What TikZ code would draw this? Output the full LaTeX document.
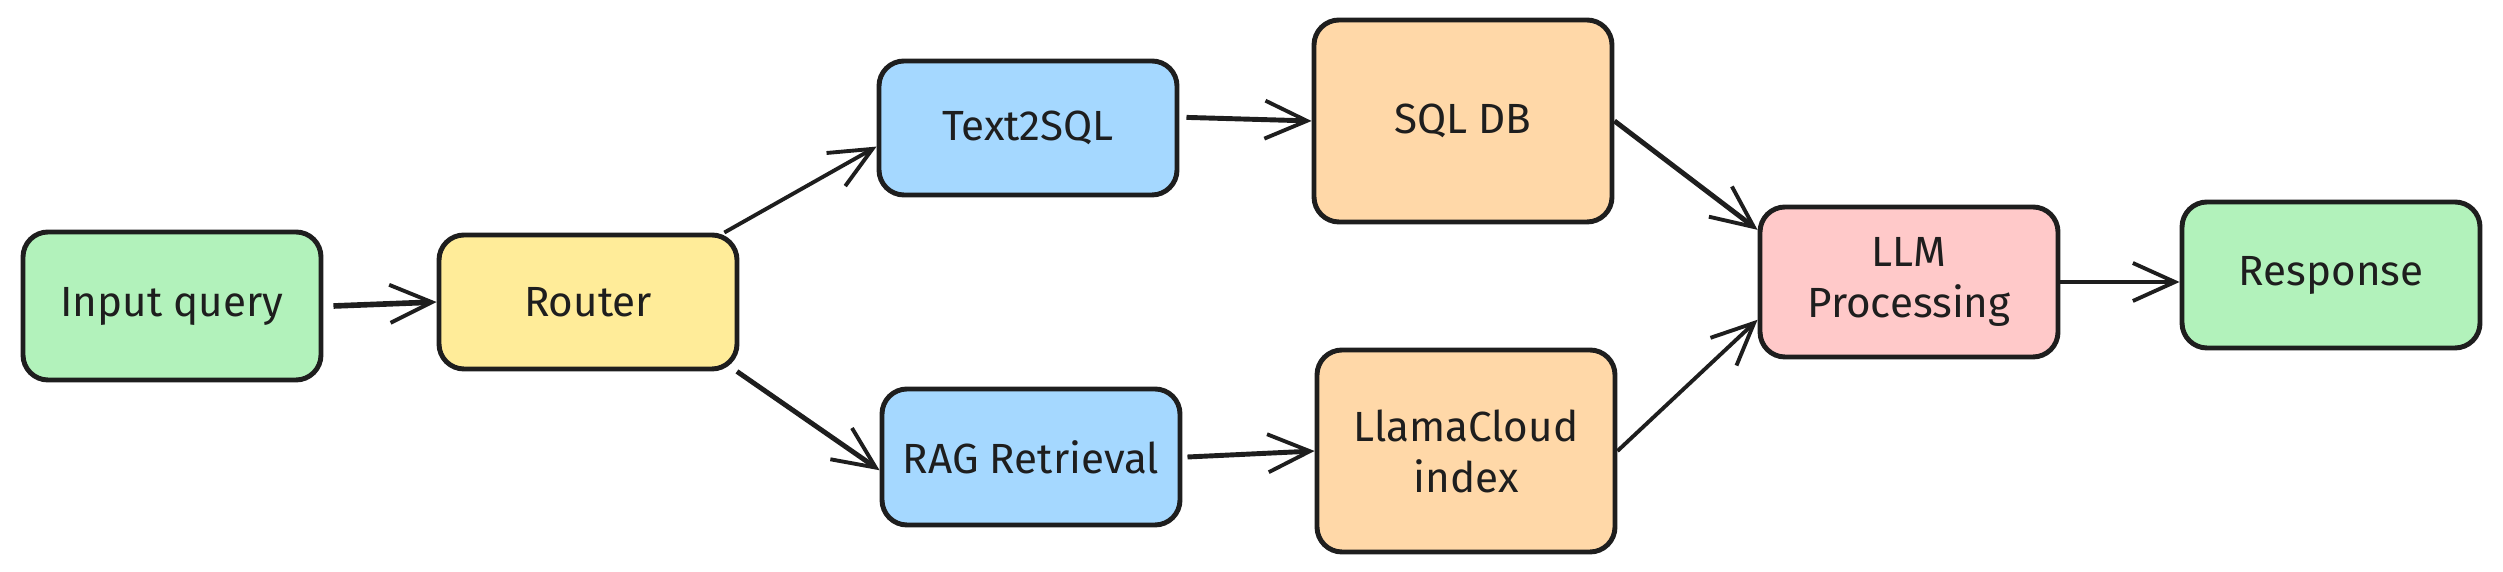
\documentclass[tikz,border=0pt]{standalone}
\usepackage{fontspec}
\setmainfont{Fira Sans}
\usepackage{tikz}
\usetikzlibrary{arrows.meta, positioning, calc}
\usepackage{xcolor}

\definecolor{ink}{HTML}{1E1E1E}
\definecolor{mint}{HTML}{B2F2BB}
\definecolor{butter}{HTML}{FFEC99}
\definecolor{sky}{HTML}{A5D8FF}
\definecolor{peach}{HTML}{FFD8A8}
\definecolor{blush}{HTML}{FFC9C9}

\begin{document}
\begin{tikzpicture}[
    >={Straight Barb[length=0.42cm, width=0.38cm, line width=1.1pt]},
    stage/.style={rectangle, rounded corners=0.25cm, draw=ink, line width=1.4pt,
      minimum width=2.98cm, inner sep=0pt, align=center,
      font=\fontsize{12}{14.5}\selectfont, text=ink},
    flow/.style={->, draw=ink, line width=1.1pt}
  ]
      \useasboundingbox (0, 0) rectangle (25.03, 5.72);

      \node[stage, fill=mint, minimum height=1.48cm] (input) at (1.72, 2.66) {Input query};
      \node[stage, fill=butter, minimum height=1.34cm] (router) at (5.88, 2.70) {Router};
      \node[stage, fill=sky, minimum height=1.34cm] (t2sql) at (10.28, 4.44) {Text2SQL};
      \node[stage, fill=sky, minimum height=1.36cm] (rag) at (10.31, 1.15) {RAG Retrieval};
      \node[stage, fill=peach, minimum height=2.02cm] (sqldb) at (14.63, 4.51) {SQL DB};
      \node[stage, fill=peach, minimum height=2.02cm] (llama) at (14.66, 1.21) {LlamaCloud\\index};
      \node[stage, fill=blush, minimum height=1.50cm] (llm) at (19.09, 2.90) {LLM\\Processing};
      \node[stage, fill=mint, minimum height=1.46cm] (resp) at (23.31, 2.97) {Response};

      \draw[flow, line width=1.6pt] ([xshift=0.1cm]input.east) -- (router.west);
      \draw[flow] (router.27) -- (t2sql.187);
      \draw[flow, line width=1.4pt] (router.-25) -- (rag.185);
      \draw[flow, line width=1.4pt] ([xshift=0.07cm]t2sql.4) -- (sqldb.west);
      \draw[flow, line width=1.4pt] ([xshift=0.05cm]rag.east) -- (llama.west);
      \draw[flow, line width=1.4pt] (sqldb.east) -- (llm.161);
      \draw[flow] (llama.east) -- (llm.194);
      \draw[flow, line width=1.4pt] (llm.east) -- (llm.east -| resp.west);

\end{tikzpicture}
\end{document}
